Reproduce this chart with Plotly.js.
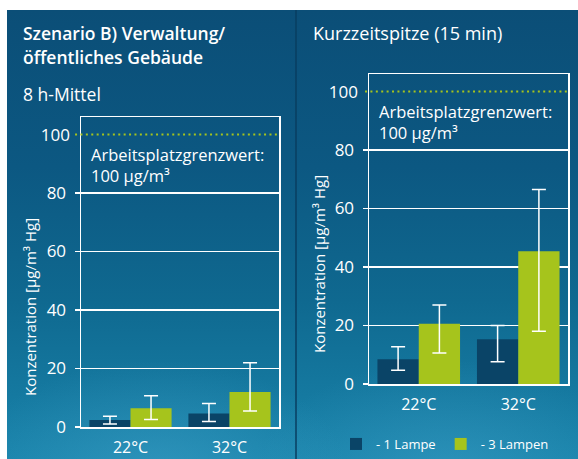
<!DOCTYPE html>
<html>
<head>
<meta charset="utf-8">
<script src="https://cdn.plot.ly/plotly-3.0.1.min.js"></script>
<style>
  html, body { margin: 0; padding: 0; background: #ffffff; }
  #wrap { position: relative; width: 578px; height: 459px; overflow: hidden; }
  #bg {
    position: absolute; left: 7px; top: 10px; width: 571px; height: 449px;
    background:
      radial-gradient(ellipse 190px 110px at 150px 460px, rgba(70,165,205,0.45), rgba(70,165,205,0) 100%),
      radial-gradient(ellipse 190px 110px at 440px 460px, rgba(70,165,205,0.40), rgba(70,165,205,0) 100%),
      linear-gradient(to bottom, #0b4e77 0%, #0c5882 35%, #0f6990 65%, #1984ab 100%);
  }
  #divider { position: absolute; left: 295px; top: 10px; width: 2px; height: 449px; background: rgba(8,62,96,0.75); }
  #chart { position: absolute; left: 0; top: 0; width: 578px; height: 459px; }
</style>
</head>
<body>
<div id="wrap">
  <div id="bg"></div>
  <div id="divider"></div>
  <div id="chart"></div>
</div>
<script>
// ---- data ----
const categories = ['22°C', '32°C'];
const seriesNames = ['- 1 Lampe', '- 3 Lampen'];

// 8h-Mittel
const mean8h_1Lampe = [2.4, 4.6];
const low8h_1Lampe  = [1.0, 1.9];
const high8h_1Lampe = [3.7, 8.0];
const mean8h_3Lampen = [6.4, 12.0];
const low8h_3Lampen  = [2.6, 5.5];
const high8h_3Lampen = [10.7, 22.0];

// Kurzzeitspitze (15 min)
const mean15_1Lampe = [8.5, 15.3];
const low15_1Lampe  = [4.7, 7.6];
const high15_1Lampe = [12.7, 20.0];
const mean15_3Lampen = [20.6, 45.4];
const low15_3Lampen  = [10.6, 18.0];
const high15_3Lampen = [27.0, 66.5];

const gridTicks = [0, 20, 40, 60, 80];
const limitTick = [100];
const limitValue = 100;

// ---- styling ----
const FONT = "'Open Sans', 'DejaVu Sans', sans-serif";
const WHITE = '#ffffff';
const DARK = '#0a4467';
const GREEN = '#a6c41c';
const W = 578, H = 459;

function errY(mean, low, high) {
  return {
    type: 'data', symmetric: false,
    array: mean.map((m, i) => high[i] - m),
    arrayminus: mean.map((m, i) => m - low[i]),
    color: WHITE, thickness: 1.5, width: 7
  };
}

function bar(name, y, low, high, color, xa, ya, showlegend) {
  return {
    type: 'bar', name: name, x: categories, y: y,
    xaxis: xa, yaxis: ya, marker: { color: color, line: { width: 0 } },
    error_y: errY(y, low, high), showlegend: showlegend, hoverinfo: 'skip'
  };
}

// invisible helper traces so the overlay axes carrying the "100" label are drawn
function helper(xa, ya) {
  return { type: 'scatter', mode: 'none', x: categories, y: [null, null], xaxis: xa, yaxis: ya, showlegend: false, hoverinfo: 'skip' };
}

const data = [
  bar(seriesNames[0], mean8h_1Lampe, low8h_1Lampe, high8h_1Lampe, DARK, 'x', 'y', false),
  bar(seriesNames[1], mean8h_3Lampen, low8h_3Lampen, high8h_3Lampen, GREEN, 'x', 'y', false),
  bar(seriesNames[0], mean15_1Lampe, low15_1Lampe, high15_1Lampe, DARK, 'x2', 'y2', true),
  bar(seriesNames[1], mean15_3Lampen, low15_3Lampen, high15_3Lampen, GREEN, 'x2', 'y2', true),
  helper('x', 'y3'),
  helper('x2', 'y4')
];

const px = v => v / W;
const py = v => 1 - v / H;

const yRange = [0, 106];

function xAxis(d0, d1, anchor) {
  return {
    domain: [px(d0), px(d1)], anchor: anchor, type: 'category',
    range: [-0.5, 1.5], showline: true, mirror: true, linecolor: WHITE, linewidth: 1.5,
    ticks: '', showgrid: false, zeroline: false, fixedrange: true,
    tickfont: { family: FONT, size: 16, color: WHITE }, ticklabelstandoff: 5
  };
}
function yAxis(top, bottom, anchor) {
  return {
    domain: [py(bottom), py(top)], anchor: anchor, range: yRange,
    tickmode: 'array', tickvals: gridTicks, ticktext: gridTicks.map(String),
    ticks: 'outside', ticklen: 5, tickwidth: 1.5, tickcolor: WHITE,
    showgrid: true, gridcolor: WHITE, gridwidth: 1.5, zeroline: false,
    showline: true, mirror: true, linecolor: WHITE, linewidth: 1.5,
    tickfont: { family: FONT, size: 17, color: WHITE }, ticklabelstandoff: 5, fixedrange: true
  };
}
function yOverlay(over, top, bottom, anchor) {
  return {
    overlaying: over, side: 'left', domain: [py(bottom), py(top)], anchor: anchor, range: yRange,
    tickmode: 'array', tickvals: limitTick, ticktext: limitTick.map(String),
    ticks: '', showgrid: false, zeroline: false, showline: false,
    tickfont: { family: FONT, size: 17, color: WHITE }, ticklabelstandoff: 10, fixedrange: true
  };
}

const annFont = (size, weight) => ({ family: FONT, size: size, color: WHITE, weight: weight || 400 });
function txt(text, x, y, size, weight, extra) {
  return Object.assign({ text: text, x: px(x), y: py(y), xref: 'paper', yref: 'paper', xanchor: 'left', yanchor: 'middle', align: 'left', showarrow: false, font: annFont(size, weight) }, extra || {});
}

const annotations = [
  txt('Szenario B) Verwaltung/', 21, 33, 17.5, 600),
  txt('öffentliches Gebäude', 21, 57, 17.5, 600),
  txt('8 h-Mittel', 21, 94, 17.5),
  txt('Kurzzeitspitze (15 min)', 311, 33, 18),
  txt('Arbeitsplatzgrenzwert:<br>100 µg/m³', 89, 165, 16.5),
  txt('Arbeitsplatzgrenzwert:<br>100 µg/m³', 377, 122, 16.5),
  txt('Konzentration [µg/m³ Hg]', 30, 307, 15, 400, { xanchor: 'center', textangle: -90 }),
  txt('Konzentration [µg/m³ Hg]', 319, 264, 15, 400, { xanchor: 'center', textangle: -90 })
];

const dotLine = { color: GREEN, width: 2, dash: '2px,3.4px' };
const shapes = [
  { type: 'line', xref: 'x domain', yref: 'y', x0: -0.03, x1: 1, y0: limitValue, y1: limitValue, line: dotLine, layer: 'above' },
  { type: 'line', xref: 'x2 domain', yref: 'y2', x0: -0.02, x1: 1, y0: limitValue, y1: limitValue, line: dotLine, layer: 'above' }
];

const layout = {
  width: W, height: H, margin: { l: 0, r: 0, t: 0, b: 0 },
  paper_bgcolor: 'rgba(0,0,0,0)', plot_bgcolor: 'rgba(0,0,0,0)',
  barmode: 'group', bargap: 0.17, bargroupgap: 0,
  font: { family: FONT, color: WHITE },
  xaxis: xAxis(81, 279, 'y'),
  yaxis: yAxis(117, 427, 'x'),
  xaxis2: xAxis(369, 568, 'y2'),
  yaxis2: yAxis(74, 384, 'x2'),
  yaxis3: yOverlay('y', 117, 427, 'x'),
  yaxis4: yOverlay('y2', 74, 384, 'x2'),
  showlegend: true,
  legend: {
    orientation: 'h', x: px(336), y: py(444), xanchor: 'left', yanchor: 'middle',
    bgcolor: 'rgba(0,0,0,0)', font: { family: FONT, size: 13, color: WHITE },
    traceorder: 'normal'
  },
  annotations: annotations,
  shapes: shapes
};

Plotly.newPlot('chart', data, layout, { displayModeBar: false, staticPlot: true });
</script>
</body>
</html>
